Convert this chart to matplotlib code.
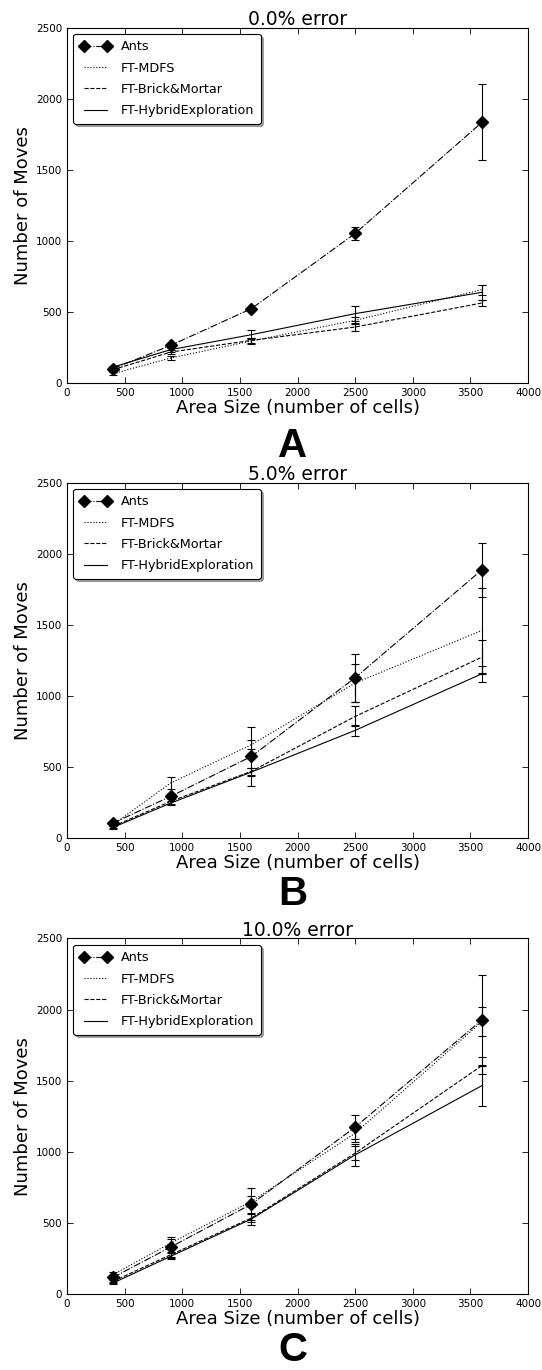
import matplotlib
matplotlib.use("Agg")
import matplotlib.pyplot as plt

# area sizes (number of cells)
area = [400, 900, 1600, 2500, 3600]

titles = ["0.0% error", "5.0% error", "10.0% error"]
panel_letters = ["A", "B", "C"]

# panel A: 0% error
ants_a = [101, 265, 523, 1052, 1833]
ants_a_err = [15, 15, 15, 47, 267]
mdfs_a = [66, 176, 296, 441, 657]
mdfs_a_err = [10, 15, 20, 25, 35]
brick_a = [94, 218, 300, 394, 563]
brick_a_err = [10, 15, 20, 25, 20]
hybrid_a = [113, 235, 340, 488, 638]
hybrid_a_err = [10, 20, 30, 55, 55]

# panel B: 5% error
ants_b = [105, 293, 574, 1127, 1886]
ants_b_err = [15, 20, 205, 170, 190]
mdfs_b = [94, 387, 656, 1090, 1460]
mdfs_b_err = [10, 45, 30, 135, 300]
brick_b = [82, 258, 469, 855, 1272]
brick_b_err = [10, 20, 25, 70, 120]
hybrid_b = [75, 246, 464, 757, 1155]
hybrid_b_err = [10, 15, 25, 40, 55]

# panel C: 10% error
ants_c = [117, 330, 632, 1173, 1927]
ants_c_err = [15, 70, 110, 85, 315]
mdfs_c = [136, 358, 651, 1131, 1915]
mdfs_c_err = [15, 30, 40, 60, 100]
brick_c = [89, 276, 534, 990, 1606]
brick_c_err = [10, 20, 30, 50, 60]
hybrid_c = [77, 265, 527, 978, 1465]
hybrid_c_err = [10, 20, 40, 80, 140]

panels = [
    (ants_a, ants_a_err, mdfs_a, mdfs_a_err, brick_a, brick_a_err, hybrid_a, hybrid_a_err),
    (ants_b, ants_b_err, mdfs_b, mdfs_b_err, brick_b, brick_b_err, hybrid_b, hybrid_b_err),
    (ants_c, ants_c_err, mdfs_c, mdfs_c_err, brick_c, brick_c_err, hybrid_c, hybrid_c_err),
]

plt.rcParams["font.family"] = "DejaVu Sans"

fig = plt.figure(figsize=(5.42, 13.7), dpi=100)
bottoms = [0.7204, 0.3883, 0.0555]
letter_base = [0.6665, 0.3395, 0.0065]


def series(ax, y, err, ls, label, marker=None):
    ax.errorbar(area, y, yerr=err, fmt="none", ecolor="black",
                elinewidth=0.8, capsize=3, capthick=0.8)
    ax.plot(area, y, ls=ls, color="black", lw=0.8, marker=marker,
            ms=6.5, label=label)


for i, data in enumerate(panels):
    ants, ants_err, mdfs, mdfs_err, brick, brick_err, hyb, hyb_err = data
    ax = fig.add_axes([0.1236, bottoms[i], 0.8506, 0.2595])
    series(ax, ants, ants_err, "-.", "Ants", marker="D")
    series(ax, mdfs, mdfs_err, ":", "FT-MDFS")
    series(ax, brick, brick_err, "--", "FT-Brick&Mortar")
    series(ax, hyb, hyb_err, "-", "FT-HybridExploration")
    ax.set_xlim(0, 4000)
    ax.set_ylim(0, 2500)
    ax.set_xticks(range(0, 4001, 500))
    ax.set_yticks(range(0, 2501, 500))
    ax.tick_params(direction="in", top=True, right=True, labelsize=7.5,
                   length=4, width=0.6)
    for s in ax.spines.values():
        s.set_linewidth(0.8)
    ax.set_title(titles[i], fontsize=13.5, pad=2)
    ax.set_xlabel("Area Size (number of cells)", fontsize=13, labelpad=1)
    ax.set_ylabel("Number of Moves", fontsize=13, labelpad=3)
    leg = ax.legend(loc="upper left", fontsize=9.2, numpoints=2, fancybox=True,
                    shadow=True, framealpha=1, edgecolor="black",
                    handlelength=2.4, borderpad=0.5, labelspacing=0.65)
    leg.get_frame().set_linewidth(0.8)
    fig.text(0.54, letter_base[i], panel_letters[i], ha="center", va="baseline",
             fontsize=29, fontweight="bold", family="Liberation Sans")

fig.savefig("out.png", dpi=100)
